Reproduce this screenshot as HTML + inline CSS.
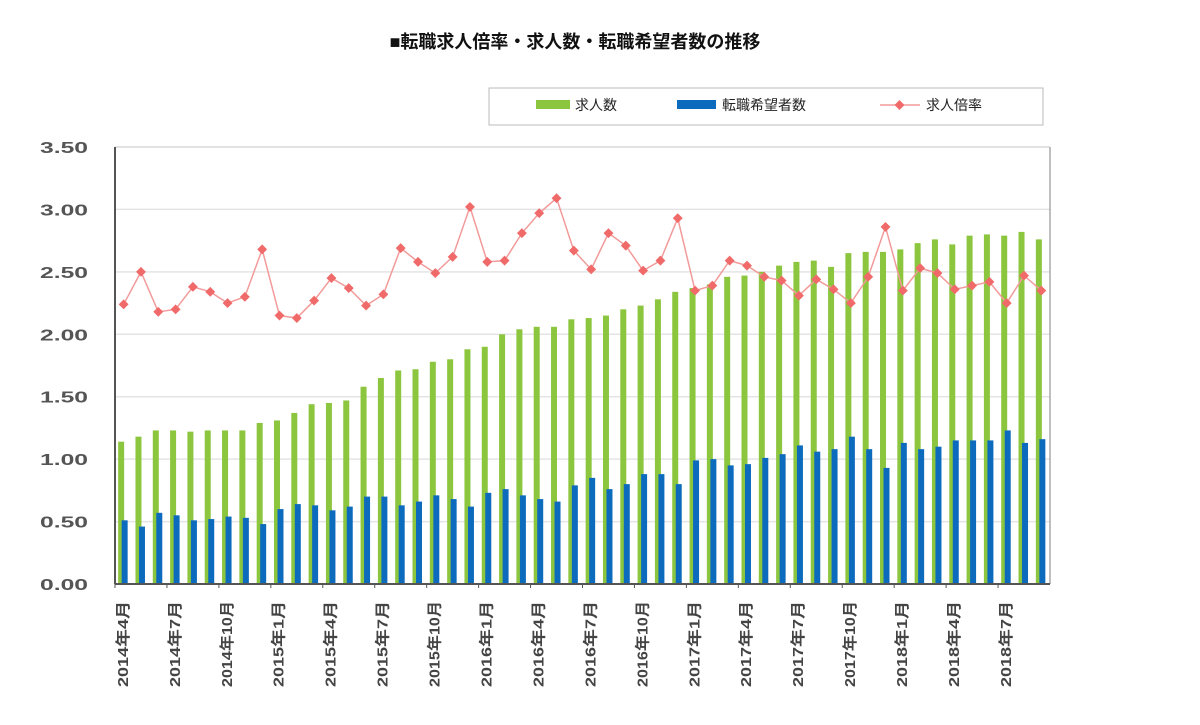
<!DOCTYPE html>
<html><head><meta charset="utf-8"><style>
body{margin:0;background:#fff;width:1200px;height:720px;overflow:hidden;font-family:"Liberation Sans","Noto Sans CJK JP",sans-serif;}
</style></head><body>
<svg id="chart" width="1200" height="720" xmlns="http://www.w3.org/2000/svg" style="font-family:'Liberation Sans','Noto Sans CJK JP',sans-serif">
<text x="575" y="48" text-anchor="middle" font-size="18" font-weight="bold" fill="#111">■転職求人倍率・求人数・転職希望者数の推移</text>
<g>
<rect x="489" y="88" width="554" height="37" fill="#fff" stroke="#bbb"/>
<rect x="536" y="100" width="34" height="9" fill="#8cc63e"/>
<text x="575" y="110" font-size="14" fill="#222">求人数</text>
<rect x="677" y="100" width="39" height="9" fill="#0d6bbd"/>
<text x="722" y="110" font-size="14" fill="#222">転職希望者数</text>
<line x1="880" y1="105" x2="920" y2="105" stroke="#f29a9a" stroke-width="1.5"/>
<rect x="896" y="101.5" width="7" height="7" fill="#f06a6a" transform="rotate(45 899.5 105)"/>
<text x="926" y="110" font-size="14" fill="#222">求人倍率</text>
</g>
<g id="grid"></g><g id="bars"></g><g id="line"></g><g id="axes"></g>
</svg>
<script>
const months = [];
for (let i = 0; i < 54; i++) { const m = 3 + i; months.push((2014 + Math.floor(m / 12)) + '年' + (m % 12 + 1) + '月'); }
const jobs = [1.14,1.18,1.23,1.23,1.22,1.23,1.23,1.23,1.29,1.31,1.37,1.44,1.45,1.47,1.58,1.65,1.71,1.72,1.78,1.80,1.88,1.90,2.00,2.04,2.06,2.06,2.12,2.13,2.15,2.20,2.23,2.28,2.34,2.37,2.40,2.46,2.47,2.50,2.55,2.58,2.59,2.54,2.65,2.66,2.66,2.68,2.73,2.76,2.72,2.79,2.80,2.79,2.82,2.76];
const seekers = [0.51,0.46,0.57,0.55,0.51,0.52,0.54,0.53,0.48,0.60,0.64,0.63,0.59,0.62,0.70,0.70,0.63,0.66,0.71,0.68,0.62,0.73,0.76,0.71,0.68,0.66,0.79,0.85,0.76,0.80,0.88,0.88,0.80,0.99,1.00,0.95,0.96,1.01,1.04,1.11,1.06,1.08,1.18,1.08,0.93,1.13,1.08,1.10,1.15,1.15,1.15,1.23,1.13,1.16];
const ratio = [2.24,2.50,2.18,2.20,2.38,2.34,2.25,2.30,2.68,2.15,2.13,2.27,2.45,2.37,2.23,2.32,2.69,2.58,2.49,2.62,3.02,2.58,2.59,2.81,2.97,3.09,2.67,2.52,2.81,2.71,2.51,2.59,2.93,2.35,2.39,2.59,2.55,2.46,2.43,2.31,2.44,2.36,2.25,2.46,2.86,2.35,2.53,2.49,2.36,2.39,2.42,2.25,2.47,2.35];
const yTicks = ['0.00','0.50','1.00','1.50','2.00','2.50','3.00','3.50'];

const NS='http://www.w3.org/2000/svg';
const PL=115,PR=1050,PT=147,PB=584,YMAX=3.5;
const slot=(PR-PL)/months.length;
const x=i=>PL+(i+0.5)*slot;
const y=v=>PB-v/YMAX*(PB-PT);
function mk(tag,attrs,parent){const e=document.createElementNS(NS,tag);for(const k in attrs)e.setAttribute(k,attrs[k]);document.getElementById(parent).appendChild(e);return e;}
yTicks.forEach(t=>{
  const v=parseFloat(t);
  if(v>0){const g=mk('line',{x1:PL,x2:PR,y1:y(v),y2:y(v),stroke:'#e4e4e4','stroke-width':1.5},'grid');
  
  }
  const tx=mk('text',{x:88,y:y(v)+6,'text-anchor':'end','font-size':16,'font-weight':'bold',fill:'#555',textLength:48,lengthAdjust:'spacingAndGlyphs'},'axes');
  tx.textContent=t;
  
  
});
jobs.forEach((v,i)=>{
  const r=mk('rect',{x:x(i)-5.5,y:y(v),width:6,height:PB-y(v),fill:'#8cc63e'},'bars');
  
  
});
seekers.forEach((v,i)=>{
  const r=mk('rect',{x:x(i)-2,y:y(v),width:6,height:PB-y(v),fill:'#0d6bbd'},'bars');
  
  
});
const pl=mk('polyline',{points:ratio.map((v,i)=>x(i)+','+y(v)).join(' '),fill:'none',stroke:'#f29a9a','stroke-width':1.5},'line');


ratio.forEach((v,i)=>{
  const p=mk('rect',{x:x(i)-3.5,y:y(v)-3.5,width:7,height:7,fill:'#f06a6a',transform:`rotate(45 ${x(i)} ${y(v)})`},'line');
  
  
});
const topBorder=mk('line',{x1:PL,x2:PR,y1:PT,y2:PT,stroke:'#ddd','stroke-width':1.5},'axes');


const rb=mk('line',{x1:PR,x2:PR,y1:PT,y2:PB,stroke:'#aaa','stroke-width':1.5},'axes');


const ya=mk('line',{x1:PL,x2:PL,y1:PT,y2:PB,stroke:'#555','stroke-width':2},'axes');


const xa=mk('line',{x1:PL,x2:PR,y1:PB,y2:PB,stroke:'#555','stroke-width':2},'axes');


months.forEach((m,i)=>{
  if(i%3!==0)return;
  const tk=mk('line',{x1:PL+i*slot,x2:PL+i*slot,y1:PB,y2:PB+4,stroke:'#555'},'axes');
  
  
  const len=m.length>=9?98:86;
  const tx=mk('text',{x:0,y:0,'text-anchor':'end','font-size':15,'font-weight':'bold',fill:'#444',textLength:len,lengthAdjust:'spacingAndGlyphs',transform:`translate(${x(i)-1},${PB+17}) rotate(-90)`},'axes');
  tx.setAttribute('dy','0.35em');
  tx.textContent=m;
  
  
});
</script>
</body></html>
